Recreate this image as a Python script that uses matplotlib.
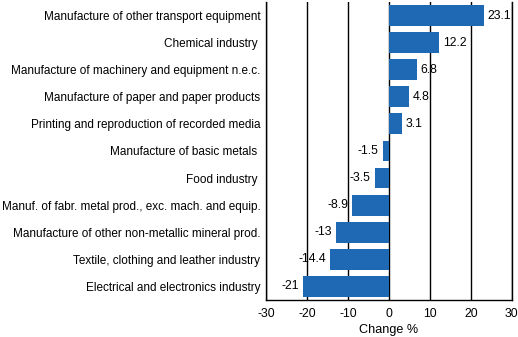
import matplotlib.pyplot as plt

industries = [
    "Manufacture of other transport equipment",
    "Chemical industry ",
    "Manufacture of machinery and equipment n.e.c.",
    "Manufacture of paper and paper products",
    "Printing and reproduction of recorded media",
    "Manufacture of basic metals ",
    "Food industry ",
    "Manuf. of fabr. metal prod., exc. mach. and equip.",
    "Manufacture of other non-metallic mineral prod.",
    "Textile, clothing and leather industry",
    "Electrical and electronics industry",
]
change = [23.1, 12.2, 6.8, 4.8, 3.1, -1.5, -3.5, -8.9, -13, -14.4, -21]
xticks = [-30, -20, -10, 0, 10, 20, 30]

plt.rcParams['font.family'] = ['Liberation Sans', 'DejaVu Sans']
fs = 8.5

fig = plt.figure(figsize=(5.18, 3.37), dpi=100)
ax = fig.add_axes([0.5135, 0.11, 0.4745, 0.884])

pos = list(range(len(industries)))
ax.barh(pos, change, height=0.77, color='#1f69b4', zorder=3)

for p, v in zip(pos, change):
    txt = f"{v:g}"
    if v >= 0:
        ax.text(v + 1.0, p, txt, va='center', ha='left', fontsize=fs + 0.3)
    else:
        ax.text(v - 1.0, p, txt, va='center', ha='right', fontsize=fs + 0.3)

ax.set_xlim(-30, 30)
ax.set_ylim(len(industries) - 0.5, -0.5)
ax.set_yticks(pos)
ax.set_yticklabels(industries, fontsize=fs)
ax.set_xticks(xticks)
ax.set_xticklabels([str(t) for t in xticks], fontsize=fs + 0.3)
ax.tick_params(axis='y', length=0, pad=4)
ax.tick_params(axis='x', length=0, pad=6)
ax.set_xlabel("Change %", fontsize=fs + 0.6, labelpad=3)

ax.grid(axis='x', color='black', linewidth=1, zorder=1)
ax.set_axisbelow(True)
ax.spines['top'].set_visible(False)
for s in ['left', 'right', 'bottom']:
    ax.spines[s].set_linewidth(1)

fig.savefig('out.png', dpi=100)
